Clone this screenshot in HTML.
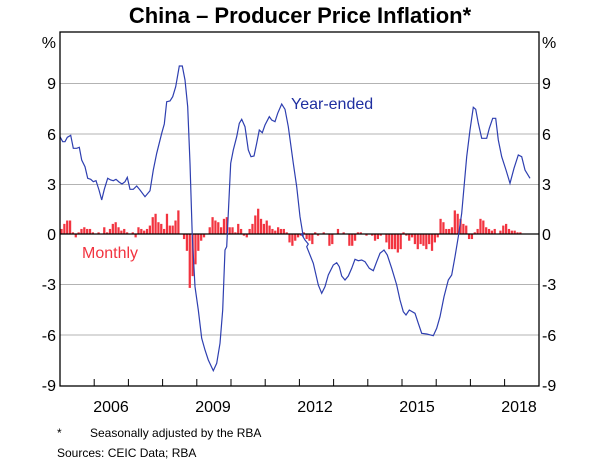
<!DOCTYPE html>
<html><head><meta charset="utf-8"><style>
body{margin:0;background:#fff}
svg{display:block;font-family:"Liberation Sans",sans-serif}
</style></head><body>
<svg id="s" width="600" height="466" viewBox="0 0 600 466">
<rect width="600" height="466" fill="#fff"/>
<text x="300" y="23" text-anchor="middle" font-size="22" font-weight="bold">China – Producer Price Inflation*</text>
<g stroke="#b3b3b3" stroke-width="1">
<line x1="60" x2="539" y1="83.5" y2="83.5"/><line x1="60" x2="539" y1="134" y2="134"/>
<line x1="60" x2="539" y1="184.5" y2="184.5"/><line x1="60" x2="539" y1="284.5" y2="284.5"/>
<line x1="60" x2="539" y1="335" y2="335"/>
</g>
<g id="bars" fill="#f2333f"></g>
<line x1="60" x2="539" y1="234" y2="234" stroke="#000" stroke-width="1.3"/>
<polyline id="ln" fill="none" stroke="#2e3fb0" stroke-width="1.2"/>
<rect x="60" y="32" width="479" height="354" fill="none" stroke="#000" stroke-width="1.3"/>
<g id="ticks" stroke="#000" stroke-width="1"></g>
<g font-size="16" text-anchor="end">
<text x="56" y="48">%</text><text x="56" y="89">9</text><text x="56" y="140">6</text><text x="56" y="190">3</text><text x="56" y="240">0</text><text x="56" y="290">-3</text><text x="56" y="341">-6</text><text x="56" y="391">-9</text>
</g>
<g font-size="16" text-anchor="start">
<text x="542" y="48">%</text><text x="542" y="89">9</text><text x="542" y="140">6</text><text x="542" y="190">3</text><text x="542" y="240">0</text><text x="542" y="290">-3</text><text x="542" y="341">-6</text><text x="542" y="391">-9</text>
</g>
<g font-size="16" text-anchor="middle">
<text x="111" y="412">2006</text><text x="213" y="412">2009</text><text x="315" y="412">2012</text><text x="417" y="412">2015</text><text x="519" y="412">2018</text>
</g>
<text x="291" y="109" font-size="16" fill="#1f2fa0">Year-ended</text>
<text x="82" y="258" font-size="16" fill="#f2333f">Monthly</text>
<text x="57" y="437" font-size="12">*</text>
<text x="90" y="437" font-size="12">Seasonally adjusted by the RBA</text>
<text x="57" y="457" font-size="12">Sources:   CEIC Data; RBA</text>
</svg>
<script>
var ns="http://www.w3.org/2000/svg";
var t=document.getElementById("ticks");
for(var i=1;i<14;i++){var x=60+i*34.2;var l=document.createElementNS(ns,"line");l.setAttribute("x1",x);l.setAttribute("x2",x);l.setAttribute("y1",386);l.setAttribute("y2",379);t.appendChild(l);}
var v=[0.3,0.6,0.8,0.8,0.1,-0.2,0.1,0.3,0.4,0.3,0.3,0.1,
0.0,0.1,0.0,0.4,0.1,0.3,0.6,0.7,0.4,0.2,0.3,0.1,
0.0,0.1,-0.2,0.4,0.3,0.2,0.3,0.5,1.0,1.2,0.7,0.6,
0.3,1.2,0.5,0.5,0.8,1.4,0.0,-0.3,-1.0,-3.2,-2.5,-1.8,
-1.0,-0.4,-0.2,0.0,0.4,1.0,0.8,0.7,0.4,0.9,1.0,0.4,
0.4,0.1,0.6,0.3,-0.1,-0.2,0.3,0.6,1.1,1.5,0.9,0.6,
0.8,0.5,0.3,0.2,0.4,0.3,0.3,0.1,-0.5,-0.7,-0.4,-0.2,
-0.1,0.1,-0.3,-0.4,-0.6,0.1,-0.1,0.0,0.1,0.0,-0.7,-0.6,
0.0,0.3,0.0,0.1,0.0,-0.7,-0.7,-0.4,0.1,0.1,0.0,-0.1,
0.0,-0.1,-0.4,-0.3,-0.1,0.0,-0.5,-0.9,-0.9,-0.9,-1.1,-0.9,
0.1,-0.1,-0.4,-0.2,-0.6,-0.9,-0.6,-0.7,-0.9,-0.6,-1.0,-0.5,
-0.2,0.9,0.7,0.3,0.3,0.4,1.4,1.2,0.9,0.6,0.5,-0.3,
-0.3,0.1,0.3,0.9,0.8,0.4,0.3,0.2,0.3,0.0,0.2,0.5,
0.6,0.3,0.2,0.2,0.1,0.1];
var b=document.getElementById("bars"),w=34.2/12;
v.forEach(function(d,i){var r=document.createElementNS(ns,"rect");var x=60+i*w+0.4;var h=Math.abs(d)*16.85;r.setAttribute("x",x);r.setAttribute("width",w-0.6);r.setAttribute("y",d>0?234-h:234);r.setAttribute("height",h);b.appendChild(r);});
var A=[[60,320],[68,335],[75,335],[82,322],[92,316],[100,355],[110,355],[118,352],[125,390],[135,410],[143,445],[152,448],[160,455],[168,452],[177,480],[185,510],[193,478],[203,445],[212,450],[220,452],[228,448],[237,456],[246,462],[255,455],[262,442],[270,478],[280,478],[290,468],[300,480],[315,500],[330,482],[340,420],[350,370],[365,310],[373,282],[380,215],[390,213],[398,200],[407,170],[418,108],[427,108],[435,150],[443,230],[450,400],[457,620]];
var B=[[465,260],[475,330],[485,415],[495,450],[505,480],[520,512],[530,490],[540,430],[548,330],[555,150]];
var C=[[560,650],[572,400],[580,360],[590,320],[598,280],[605,268],[615,290],[625,360],[633,380],[642,378],[650,340],[658,300],[667,308],[675,285],[688,260],[695,270],[705,275],[713,250],[725,222],[735,238],[745,290],[760,400],[770,470],[780,560],[790,620]];
var D=[[783,100],[795,120],[805,132]];
var E=[[20,140],[40,190],[55,255],[65,280],[75,260],[85,225],[100,195],[110,188],[118,200],[125,228],[135,240],[145,228],[155,205],[165,178],[175,182],[185,180],[195,185],[208,205],[220,212],[230,185],[240,160],[252,150],[262,165],[275,205],[290,255],[300,300],[310,335],[318,345],[328,330],[345,340],[355,370],[365,400],[380,402],[400,407],[410,385],[420,350],[432,290],[445,240],[455,225],[465,170],[475,110],[485,40]];
var F=[[500,380],[510,300],[520,232],[527,238],[535,280],[545,325],[560,325],[568,295],[578,265],[587,265],[595,330],[605,380],[618,420],[630,460],[642,415],[655,375],[665,380],[675,420],[690,445]];
var p=[];
A.forEach(function(a){p.push([40+a[0]/3,30+a[1]/3]);});
B.forEach(function(a){p.push([40+a[0]/3,200+a[1]/3]);});
C.forEach(function(a){p.push([40+a[0]/3,30+a[1]/3]);});
D.forEach(function(a){p.push([40+a[0]/3,200+a[1]/3]);});
E.forEach(function(a){p.push([300+a[0]/3,200+a[1]/3]);});
F.forEach(function(a){p.push([300+a[0]/3,30+a[1]/3]);});
document.getElementById("ln").setAttribute("points",p.map(function(q){return q[0].toFixed(1)+","+q[1].toFixed(1);}).join(" "));
</script>
</body></html>
